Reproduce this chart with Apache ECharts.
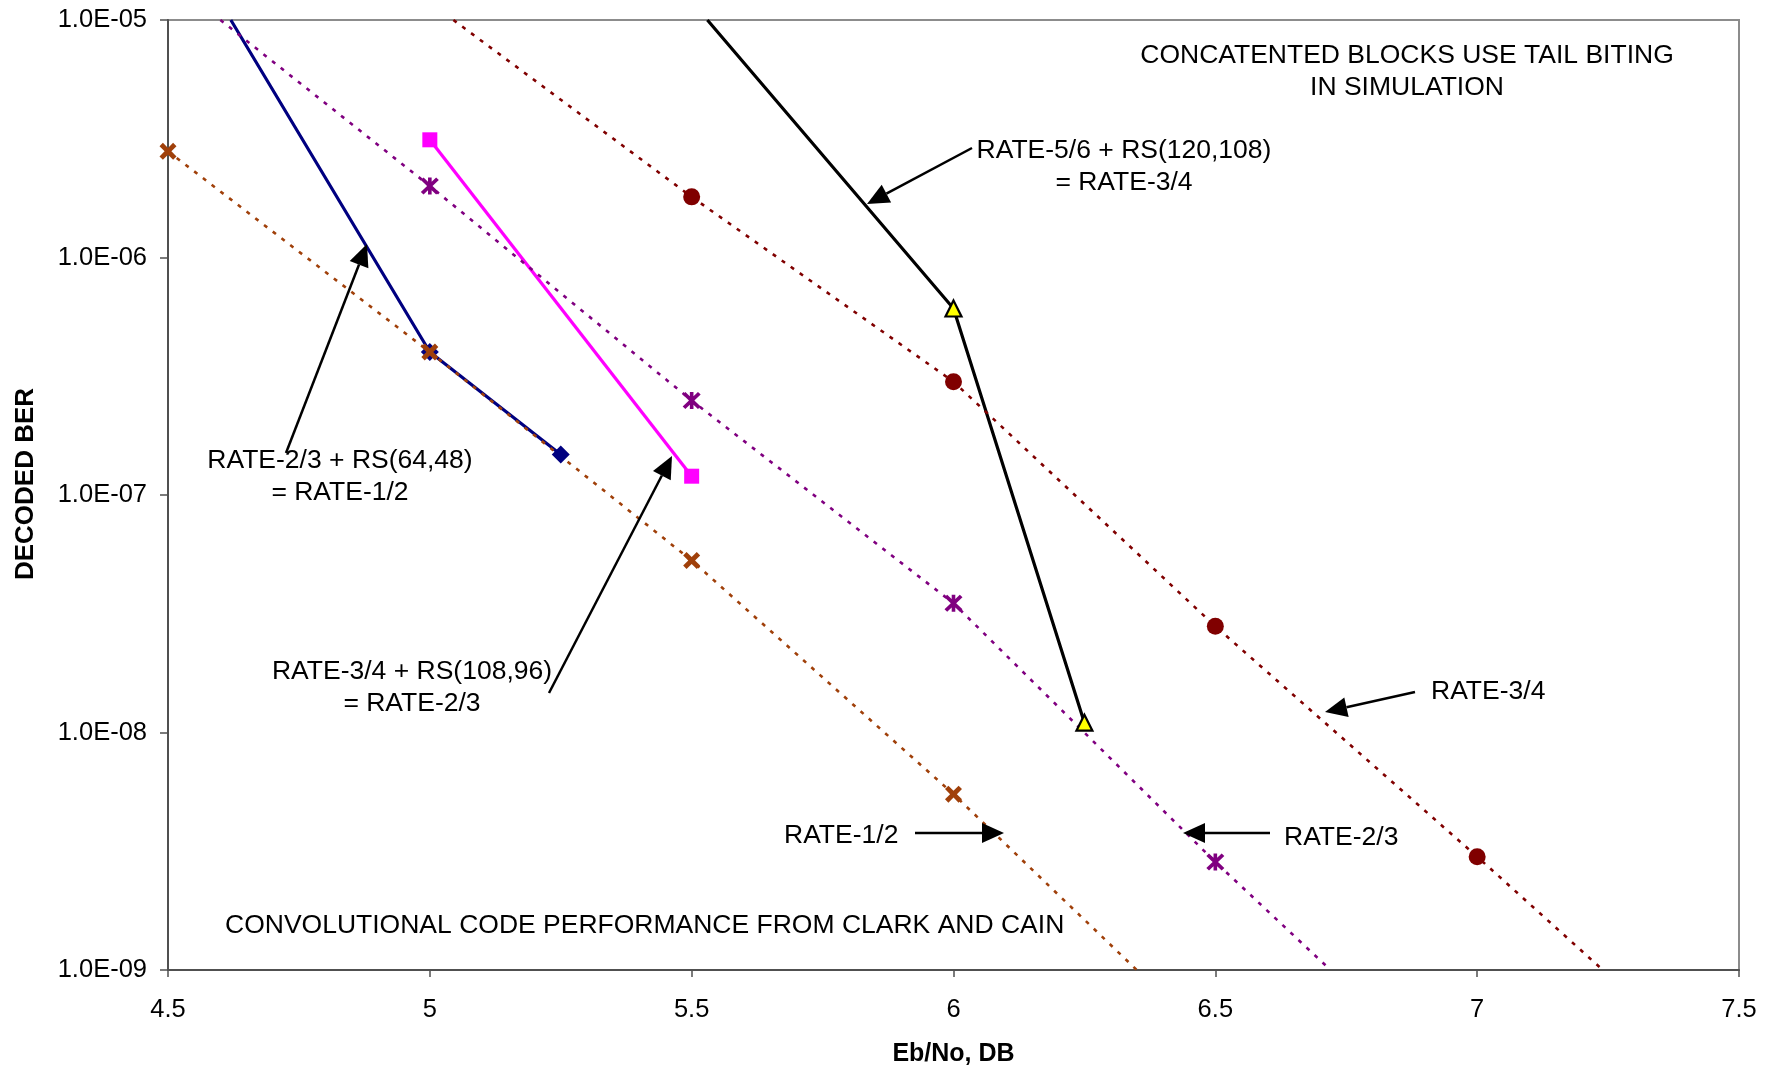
<!DOCTYPE html>
<html>
<head>
<meta charset="utf-8">
<script src="https://cdn.jsdelivr.net/npm/echarts@6/dist/echarts.min.js"></script>
<style>
html,body{margin:0;padding:0;background:#fff;}
#chart{width:1783px;height:1069px;}
</style>
</head>
<body>
<div id="chart"></div>
<script>
// ---------------- DATA ----------------
const xTicks = [4.5, 5, 5.5, 6, 6.5, 7, 7.5];
const yTickValues = [1e-9, 1e-8, 1e-7, 1e-6, 1e-5];

// Clark & Cain convolutional code curves (dotted)
const ebnoR12 = [4.5, 5.0, 5.5, 6.0];
const berR12 = [2.8e-6, 4.0e-7, 5.3e-8, 5.5e-9];
const r12Start = null;
const r12End = [6.35, 1e-9];

const ebnoR23 = [5.0, 5.5, 6.0, 6.5];
const berR23 = [2.0e-6, 2.5e-7, 3.5e-8, 2.85e-9];
const r23Start = [4.60, 1e-5];
const r23End = [6.72, 1e-9];

const ebnoR34 = [5.5, 6.0, 6.5, 7.0];
const berR34 = [1.8e-6, 3.0e-7, 2.8e-8, 3.0e-9];
const r34Start = [5.045, 1e-5];
const r34End = [7.24, 1e-9];

// Concatenated simulations (solid)
const ebnoC12 = [5.0, 5.25];
const berC12 = [4.0e-7, 1.48e-7];
const c12Start = [4.62, 1e-5];

const ebnoC23 = [5.0, 5.5];
const berC23 = [3.13e-6, 1.2e-7];

const ebnoC34 = [6.0, 6.25];
const berC34 = [6.1e-7, 1.1e-8];
const c34Start = [5.53, 1e-5];

// ---------------- CHART ----------------
const FONT = "'Liberation Sans', Arial, sans-serif";
const X_PATH = 'path://M0,2L2,0L5,3L8,0L10,2L7,5L10,8L8,10L5,7L2,10L0,8L3,5Z';
const STAR_PATH = 'path://M0,1.5L1.5,0L5,3.5L8.5,0L10,1.5L6.5,5L10,8.5L8.5,10L5,6.5L1.5,10L0,8.5L3.5,5Z M4,0L6,0L6,10L4,10Z';

function buildData(xs, ys, start, end) {
  const d = [];
  if (start) d.push({value: start, symbol: 'none'});
  xs.forEach((x, i) => d.push({value: [x, ys[i]]}));
  if (end) d.push({value: end, symbol: 'none'});
  return d;
}

function lineSeries(name, data, color, lineStyle, symbol, symbolSize, itemStyle) {
  return {
    name: name, type: 'line', data: data,
    symbol: symbol, symbolSize: symbolSize, showSymbol: true, showAllSymbol: true,
    lineStyle: Object.assign({color: color}, lineStyle),
    itemStyle: itemStyle || {color: color},
    emphasis: {disabled: true},
    clip: true, z: 3
  };
}

const dotted = {width: 2.6, type: [4, 7]};
const solid = {width: 3.2, type: 'solid'};

const series = [
  lineSeries('RATE-2/3 + RS(64,48)', buildData(ebnoC12, berC12, c12Start, null), '#000080', solid, 'diamond', 18),
  lineSeries('RATE-3/4 + RS(108,96)', buildData(ebnoC23, berC23, null, null), '#FF00FF', solid, 'rect', 15),
  lineSeries('RATE-5/6 + RS(120,108)', buildData(ebnoC34, berC34, c34Start, null), '#000000', solid, 'triangle', 16,
    {color: '#FFFF00', borderColor: '#000000', borderWidth: 2.2}),
  lineSeries('RATE-1/2', buildData(ebnoR12, berR12, r12Start, r12End), '#A0400A', dotted, X_PATH, 17),
  lineSeries('RATE-2/3', buildData(ebnoR23, berR23, r23Start, r23End), '#800080', dotted, STAR_PATH, [18, 17]),
  lineSeries('RATE-3/4', buildData(ebnoR34, berR34, r34Start, r34End), '#800000', dotted, 'circle', 17)
];

function expLabel(v) {
  const e = Math.round(Math.log10(v));
  const s = String(Math.abs(e)).padStart(2, '0');
  return '1.0E' + (e < 0 ? '-' : '+') + s;
}

// annotations (pixel placement)
function arrow(tail, tip) {
  const dx = tip[0] - tail[0], dy = tip[1] - tail[1];
  const L = Math.sqrt(dx * dx + dy * dy);
  const ux = dx / L, uy = dy / L;
  const hl = 22, hw = 10;
  const bx = tip[0] - ux * hl, by = tip[1] - uy * hl;
  return [
    {type: 'line', silent: true, z: 10,
     shape: {x1: tail[0], y1: tail[1], x2: bx, y2: by},
     style: {stroke: '#000', lineWidth: 2.5}},
    {type: 'polygon', silent: true, z: 10,
     shape: {points: [tip, [bx - uy * hw, by + ux * hw], [bx + uy * hw, by - ux * hw]]},
     style: {fill: '#000'}}
  ];
}
function label(text, x, y, align) {
  return {type: 'text', silent: true, z: 10, x: x, y: y,
    style: {text: text, font: '26.5px ' + FONT, fill: '#000',
      align: align || 'center', verticalAlign: 'middle', lineHeight: 32}};
}

const graphics = [].concat(
  [label('CONCATENTED BLOCKS USE TAIL BITING\nIN SIMULATION', 1407, 72)],
  [label('RATE-5/6 + RS(120,108)\n= RATE-3/4', 1124, 167)],
  arrow([972, 148], [867, 204]),
  [label('RATE-2/3 + RS(64,48)\n= RATE-1/2', 340, 477)],
  arrow([286, 453], [367, 244]),
  [label('RATE-3/4 + RS(108,96)\n= RATE-2/3', 412, 688)],
  arrow([549, 693], [672, 456]),
  [label('RATE-3/4', 1431, 692, 'left')],
  arrow([1415, 692], [1325, 712]),
  [label('RATE-1/2', 784, 836, 'left')],
  arrow([915, 833], [1004, 833]),
  [label('RATE-2/3', 1284, 838, 'left')],
  arrow([1270, 833], [1183, 833]),
  [label('CONVOLUTIONAL CODE PERFORMANCE FROM CLARK AND CAIN', 225, 926, 'left')]
);

const chart = echarts.init(document.getElementById('chart'), null, {renderer: 'canvas'});
chart.setOption({
  animation: false,
  backgroundColor: '#ffffff',
  textStyle: {fontFamily: FONT},
  grid: {left: 168, top: 20, width: 1571, height: 950, show: true,
    containLabel: false, outerBoundsMode: 'none',
    borderColor: '#8c8c8c', borderWidth: 2, backgroundColor: 'transparent'},
  xAxis: {
    type: 'value', min: xTicks[0], max: xTicks[xTicks.length - 1], interval: 0.5,
    name: 'Eb/No, DB', nameLocation: 'middle', nameGap: 72,
    nameTextStyle: {fontFamily: FONT, fontSize: 25, fontWeight: 'bold', color: '#000'},
    axisLine: {show: true, onZero: false, lineStyle: {color: '#505050', width: 2}},
    axisTick: {show: true, inside: false, length: 7, lineStyle: {color: '#505050', width: 1.5}},
    axisLabel: {fontFamily: FONT, fontSize: 25.5, color: '#000', margin: 27,
      formatter: v => String(v), showMinLabel: true, showMaxLabel: true},
    splitLine: {show: false}
  },
  yAxis: {
    type: 'log', logBase: 10, min: yTickValues[0], max: yTickValues[yTickValues.length - 1],
    name: 'DECODED BER', nameLocation: 'middle', nameGap: 129, nameRotate: 90,
    nameTextStyle: {fontFamily: FONT, fontSize: 26, fontWeight: 'bold', color: '#000',
      padding: [0, 0, 0, 22]},
    axisLine: {show: true, onZero: false, lineStyle: {color: '#505050', width: 2}},
    axisTick: {show: true, inside: false, length: 8, lineStyle: {color: '#505050', width: 1.5}},
    minorTick: {show: false},
    axisLabel: {fontFamily: FONT, fontSize: 25.5, color: '#000', margin: 21, formatter: expLabel,
      showMinLabel: true, showMaxLabel: true},
    splitLine: {show: false}
  },
  legend: {show: false},
  tooltip: {show: false},
  series: series,
  graphic: {elements: graphics}
});
</script>
</body>
</html>
